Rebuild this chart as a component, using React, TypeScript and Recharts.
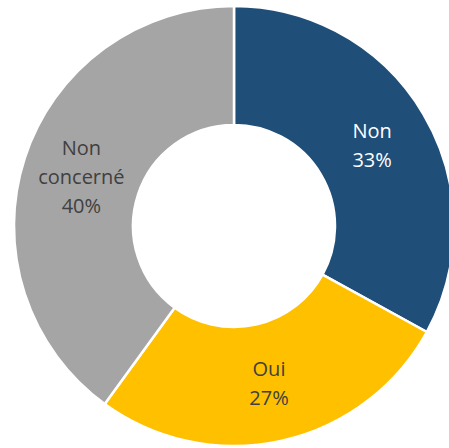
import { PieChart, Pie, Cell } from "recharts";

const categories = ["Non", "Oui", "Non concerné"];
const shares = [33, 27, 40];
const sliceColors = ["#1F4E79", "#FFC000", "#A5A5A5"];
const labelColors = ["#FFFFFF", "#404040", "#404040"];

const data = categories.map((name, i) => ({ name, value: shares[i] }));

const RADIAN = Math.PI / 180;
const LINE_H = 29;

function renderLabel(props: any) {
  const { cx, cy, midAngle, innerRadius, outerRadius, percent, index, name } = props;
  const r = (innerRadius + outerRadius) / 2;
  const x = cx + r * Math.cos(-midAngle * RADIAN);
  const y = cy + r * Math.sin(-midAngle * RADIAN);
  // split "Non concerné" into two lines like the original
  const words = name === "Non concerné" ? ["Non", "concerné"] : [name];
  const lines = [...words, `${Math.round(percent * 100)}%`];
  const top = y - ((lines.length - 1) * LINE_H) / 2;
  return (
    <text
      x={x}
      y={top}
      textAnchor="middle"
      dominantBaseline="central"
      fill={labelColors[index]}
      fontSize={20}
      fontFamily="'Open Sans', sans-serif"
    >
      {lines.map((l, i) => (
        <tspan key={i} x={x} y={top + i * LINE_H}>
          {l}
        </tspan>
      ))}
    </text>
  );
}

export default function App() {
  return (
    <div style={{ position: "absolute", left: 0, top: 0, width: 449, height: 448, overflow: "hidden", background: "#fff" }}>
      <PieChart width={449} height={448} margin={{ top: 0, right: 0, bottom: 0, left: 0 }}>
        <Pie
          data={data}
          dataKey="value"
          nameKey="name"
          cx={234}
          cy={226}
          innerRadius={101}
          outerRadius={220}
          startAngle={90}
          endAngle={-270}
          stroke="#FFFFFF"
          strokeWidth={2.5}
          label={renderLabel}
          labelLine={false}
          isAnimationActive={false}
        >
          {data.map((d, i) => (
            <Cell key={d.name} fill={sliceColors[i]} />
          ))}
        </Pie>
      </PieChart>
    </div>
  );
}
